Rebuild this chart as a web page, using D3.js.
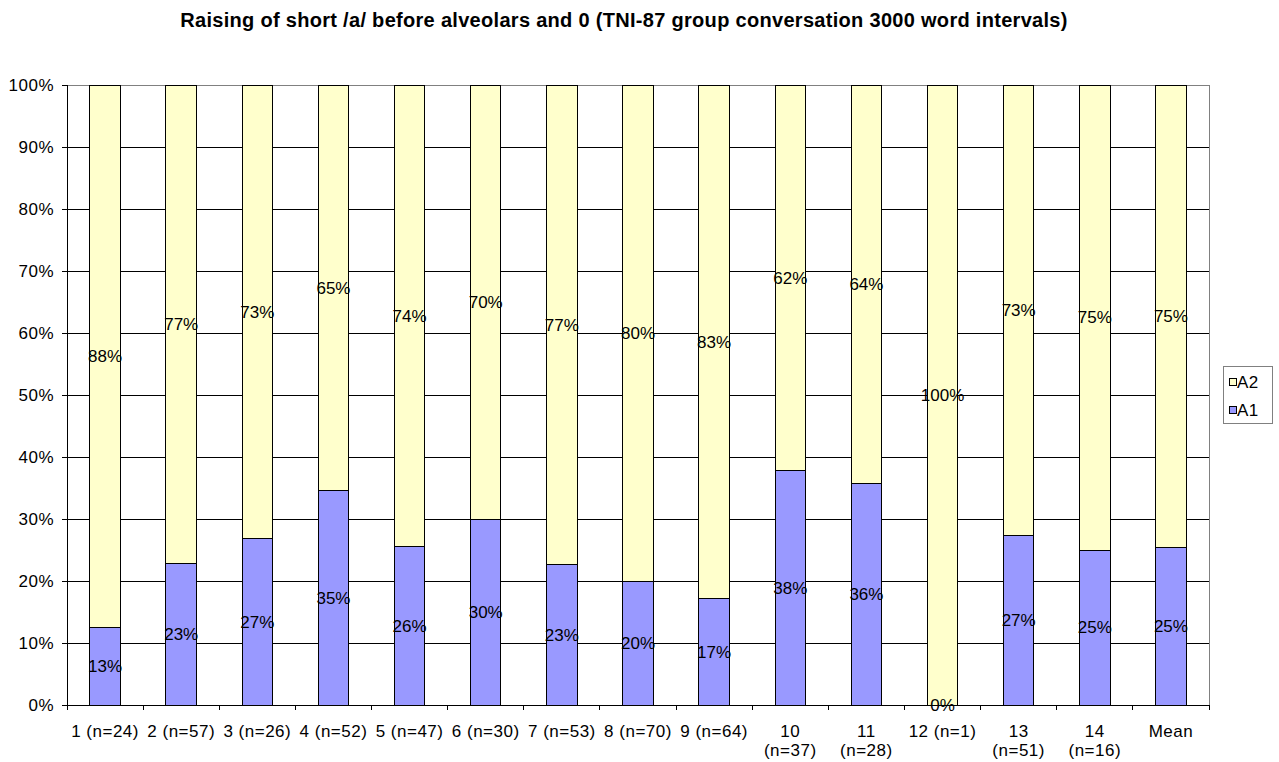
<!DOCTYPE html>
<html>
<head>
<meta charset="utf-8">
<script src="https://cdn.jsdelivr.net/npm/d3@7"></script>
<style>
  html, body { margin: 0; padding: 0; background: #fff; }
  svg text { font-family: "Liberation Sans", Arial, sans-serif; }
</style>
</head>
<body>
<svg id="chart" width="1279" height="762"></svg>
<script>
// Groups along the x axis (label lines)
const categories = [
  ["1 (n=24)"], ["2 (n=57)"], ["3 (n=26)"], ["4 (n=52)"], ["5 (n=47)"],
  ["6 (n=30)"], ["7 (n=53)"], ["8 (n=70)"], ["9 (n=64)"], ["10", "(n=37)"],
  ["11", "(n=28)"], ["12 (n=1)"], ["13", "(n=51)"], ["14", "(n=16)"], ["Mean"]
];
// Share of A1 (raised) tokens per group
const a1Values = [0.125, 0.228, 0.269, 0.346, 0.256, 0.300, 0.226, 0.200, 0.172, 0.378, 0.357, 0.000, 0.274, 0.250, 0.254];
// Share of A2 tokens per group
const a2Values = [0.875, 0.772, 0.731, 0.654, 0.744, 0.700, 0.774, 0.800, 0.828, 0.622, 0.643, 1.000, 0.726, 0.750, 0.746];
const yTicks = [0, 0.1, 0.2, 0.3, 0.4, 0.5, 0.6, 0.7, 0.8, 0.9, 1.0];
const seriesNames = ["A1", "A2"];
const seriesColors = { A1: "#9999FF", A2: "#FFFFCC" };

const svg = d3.select("#chart");
const plotLeft = 67, plotRight = 1209, plotTop = 85, plotBottom = 705;

const x = d3.scaleBand().domain(d3.range(categories.length)).range([plotLeft, plotRight]).paddingInner(0).paddingOuter(0);
const y = d3.scaleLinear().domain([0, 1]).range([plotBottom, plotTop]);
const barW = x.bandwidth() * 0.4;
const fmt = d3.format(".0%");
const fontSize = 17;

// Title
svg.append("text")
  .attr("x", 624).attr("y", 27)
  .attr("text-anchor", "middle")
  .attr("font-size", 20).attr("font-weight", "bold")
  .attr("letter-spacing", 0.3)
  .text("Raising of short /a/ before alveolars and 0 (TNI-87 group conversation 3000 word intervals)");

// Gridlines
svg.append("g").selectAll("line").data(yTicks.filter(t => t > 0 && t < 1)).join("line")
  .attr("x1", plotLeft).attr("x2", plotRight)
  .attr("y1", d => y(d)).attr("y2", d => y(d))
  .attr("stroke", "#000").attr("stroke-width", 1).attr("shape-rendering", "crispEdges");

// Plot frame (top and right)
svg.append("path")
  .attr("d", `M${plotLeft},${plotTop}H${plotRight}V${plotBottom}`)
  .attr("fill", "none").attr("stroke", "#808080").attr("stroke-width", 1).attr("shape-rendering", "crispEdges");

// Stacked bars
const stackData = categories.map((c, i) => ({ i, A1: a1Values[i], A2: a2Values[i] }));
const stacked = d3.stack().keys(seriesNames)(stackData);

const layers = svg.append("g").selectAll("g").data(stacked).join("g")
  .attr("fill", d => seriesColors[d.key]);

layers.selectAll("rect").data(d => d).join("rect")
  .attr("x", d => x(d.data.i) + (x.bandwidth() - barW) / 2)
  .attr("width", barW)
  .attr("y", d => y(d[1]))
  .attr("height", d => y(d[0]) - y(d[1]))
  .attr("stroke", "#000").attr("stroke-width", 1).attr("shape-rendering", "crispEdges");

// Value labels, centered in each segment
const labelLayer = svg.append("g");
stacked.forEach(layer => {
  labelLayer.append("g").selectAll("text").data(layer).join("text")
    .attr("x", d => x(d.data.i) + x.bandwidth() / 2)
    .attr("y", d => (y(d[0]) + y(d[1])) / 2)
    .attr("dy", "0.35em")
    .attr("text-anchor", "middle")
    .attr("font-size", fontSize)
    .attr("fill", "#000")
    .text(d => fmt(d.data[layer.key]));
});

// Y axis
const yAxis = svg.append("g")
  .attr("transform", `translate(${plotLeft},0)`)
  .call(d3.axisLeft(y).tickValues(yTicks).tickFormat(fmt).tickSize(5).tickPadding(8));
yAxis.select(".domain").attr("stroke", "#000").attr("shape-rendering", "crispEdges");
yAxis.selectAll(".tick line").attr("stroke", "#000").attr("shape-rendering", "crispEdges");
yAxis.selectAll("text").attr("font-size", fontSize).attr("fill", "#000")
  .attr("letter-spacing", 0.5)
  .attr("font-family", "Liberation Sans, Arial, sans-serif");

// X axis with ticks at group boundaries
const xg = svg.append("g");
xg.append("line").attr("x1", plotLeft).attr("x2", plotRight).attr("y1", plotBottom).attr("y2", plotBottom)
  .attr("stroke", "#000").attr("shape-rendering", "crispEdges");
const bounds = d3.range(categories.length + 1).map(i => i < categories.length ? x(i) : plotRight);
xg.selectAll("line.tk").data(bounds).join("line").attr("class", "tk")
  .attr("x1", d => d).attr("x2", d => d).attr("y1", plotBottom).attr("y2", plotBottom + 5)
  .attr("stroke", "#000").attr("shape-rendering", "crispEdges");

xg.selectAll("text").data(categories).join("text")
  .attr("x", (d, i) => x(i) + x.bandwidth() / 2)
  .attr("y", 737)
  .attr("text-anchor", "middle")
  .attr("font-size", fontSize)
  .attr("letter-spacing", 0.5)
  .each(function(lines) {
    const cx = d3.select(this).attr("x");
    d3.select(this).selectAll("tspan").data(lines).join("tspan")
      .attr("x", cx)
      .attr("dy", (d, k) => k === 0 ? 0 : 19)
      .text(d => d);
  });

// Legend
const lg = svg.append("g").attr("transform", "translate(1223,366)");
lg.append("rect").attr("width", 49).attr("height", 57)
  .attr("fill", "#fff").attr("stroke", "#808080").attr("shape-rendering", "crispEdges");
const legendItems = ["A2", "A1"];
legendItems.forEach((k, j) => {
  const g = lg.append("g").attr("transform", `translate(6,${16 + j * 28})`);
  g.append("rect").attr("x", 0).attr("y", -3.5).attr("width", 7).attr("height", 7)
    .attr("fill", seriesColors[k]).attr("stroke", "#000").attr("shape-rendering", "crispEdges");
  g.append("text").attr("x", 8).attr("y", 0).attr("dy", "0.35em")
    .attr("font-size", fontSize).attr("letter-spacing", 0.5).text(k);
});
</script>
</body>
</html>
